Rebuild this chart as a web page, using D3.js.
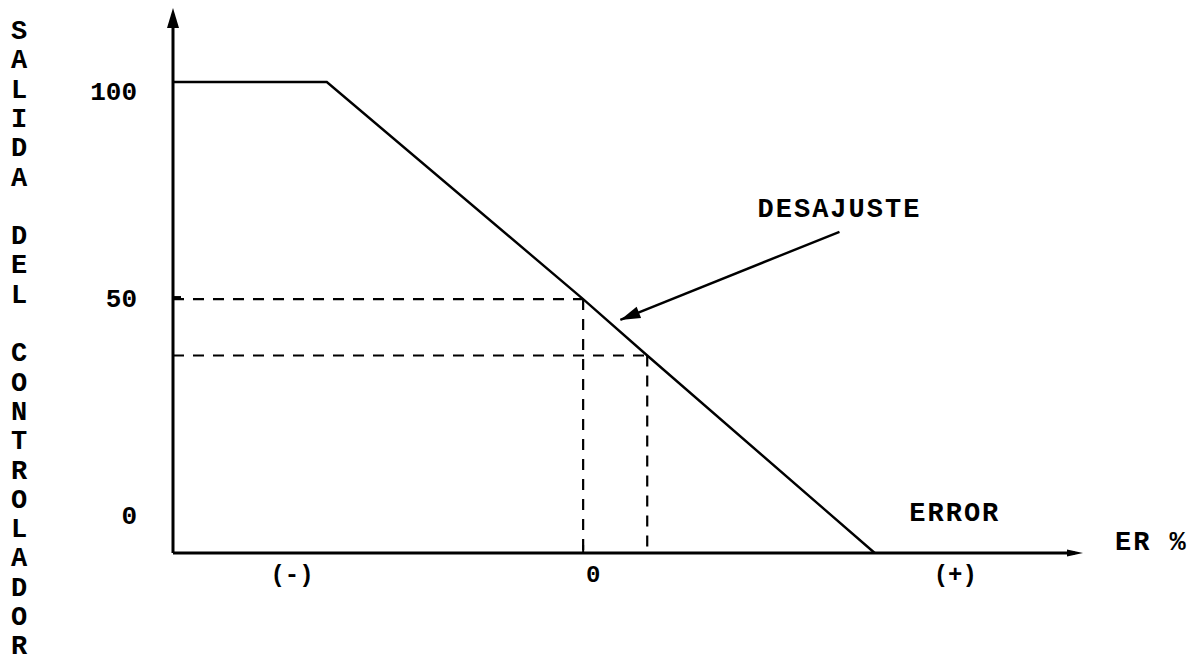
<!DOCTYPE html>
<html>
<head>
<meta charset="utf-8">
<script src="https://cdn.jsdelivr.net/npm/d3@7"></script>
<style>
  html, body { margin: 0; padding: 0; background: #fff; }
  svg { display: block; }
  text { font-family: "Liberation Mono", "DejaVu Sans Mono", monospace; font-weight: bold; fill: #000; }
</style>
</head>
<body>
<script>
// ---- data ----
const yTitle = "SALIDA DEL CONTROLADOR";
const yTickValues = [100, 50, 0];
const yTickLabels = ["100", "50", "0"];
const xTickValues = [-4.55, 0.15, 5.8];
const xTickLabels = ["(-)", "0", "(+)"];
const xAxisTitle = "ER %";
const curveX = [-6.4, -4.0, 0, 1, 4.55];
const curveY = [100, 100, 50, 37, -8.5];
const guideX = [0, 1];
const guideY = [50, 37];
const noteText = "DESAJUSTE";
const noteFrom = [4.0, 65.5];
const noteTo = [0.58, 45.2];
const noteLabelPos = [4.0, 68.8];
const errorText = "ERROR";
const errorPos = [5.8, -1.2];

const W = 1198, H = 665;
const svg = d3.select("body").append("svg").attr("width", W).attr("height", H);

const x = d3.scaleLinear().domain([-6.4, 7.8]).range([173, 1083]);
const y = d3.scaleLinear().domain([-8.5, 100]).range([553, 82]);
const x0 = x.domain()[0], x1 = x.domain()[1], yb = y.domain()[0];

// dashed guides
const g = svg.append("g");
guideX.forEach((gx, i) => {
  g.append("line").attr("x1", x(x0)).attr("x2", x(gx)).attr("y1", y(guideY[i])).attr("y2", y(guideY[i]))
    .attr("stroke", "#000").attr("stroke-width", 2.2).attr("stroke-dasharray", "11,9");
  g.append("line").attr("x1", x(gx)).attr("x2", x(gx)).attr("y1", y(guideY[i])).attr("y2", y(yb))
    .attr("stroke", "#000").attr("stroke-width", 2.2).attr("stroke-dasharray", "11,9");
});

// curve
const pts = curveX.map((v, i) => [v, curveY[i]]);
svg.append("path").datum(pts)
  .attr("d", d3.line().x(d => x(d[0])).y(d => y(d[1])))
  .attr("fill", "none").attr("stroke", "#000").attr("stroke-width", 2.4);

// axes lines
svg.append("line").attr("x1", x(x0)).attr("x2", x(x0)).attr("y1", y(yb)).attr("y2", 22)
  .attr("stroke", "#000").attr("stroke-width", 3);
svg.append("path").attr("d", `M${x(x0)},8 L${x(x0) - 6},28 L${x(x0) + 6},28 Z`).attr("fill", "#000");
svg.append("line").attr("x1", x(x0)).attr("x2", x(x1) - 8).attr("y1", y(yb)).attr("y2", y(yb))
  .attr("stroke", "#000").attr("stroke-width", 3);
svg.append("path").attr("d", `M${x(x1)},${y(yb)} L${x(x1) - 16},${y(yb) - 3.5} L${x(x1) - 16},${y(yb) + 3.5} Z`).attr("fill", "#000");

// small ticks
svg.append("line").attr("x1", x(x0)).attr("x2", x(x0) + 8).attr("y1", y(50) - 2).attr("y2", y(50) - 2)
  .attr("stroke", "#000").attr("stroke-width", 2);
svg.append("line").attr("x1", x(0)).attr("x2", x(0)).attr("y1", y(yb)).attr("y2", y(yb) - 8)
  .attr("stroke", "#000").attr("stroke-width", 2);

// y tick labels via axis
const yAxis = d3.axisLeft(y).tickValues(yTickValues).tickSize(0).tickPadding(36)
  .tickFormat((d, i) => yTickLabels[i]);
const ya = svg.append("g").attr("transform", `translate(${x(x0)},0)`).call(yAxis);
ya.select(".domain").remove();
ya.selectAll("text").attr("font-size", 26).attr("font-family", null).attr("dy", "0.38em")
  .attr("transform", (d, i) => i === 0 ? "translate(0,8)" : "translate(0,-2)");

// x tick labels via axis
const xAxis = d3.axisBottom(x).tickValues(xTickValues).tickSize(0).tickPadding(12)
  .tickFormat((d, i) => xTickLabels[i]);
const xa = svg.append("g").attr("transform", `translate(0,${y(yb)})`).call(xAxis);
xa.select(".domain").remove();
xa.selectAll("text").attr("font-size", 24).attr("font-family", null);

// y title (vertical letters)
const yt = svg.append("text").attr("font-size", 27).attr("text-anchor", "middle");
yTitle.split("").forEach((ch, i) => {
  yt.append("tspan").attr("x", 19).attr("y", 39 + i * 29.3).text(ch === " " ? "\u00a0" : ch);
});

// annotations
svg.append("text").attr("x", x(noteLabelPos[0])).attr("y", y(noteLabelPos[1]))
  .attr("text-anchor", "middle").attr("font-size", 27).attr("letter-spacing", 2).text(noteText);
svg.append("text").attr("x", x(errorPos[0])).attr("y", y(errorPos[1]))
  .attr("text-anchor", "middle").attr("font-size", 27).attr("letter-spacing", 2).text(errorText);
svg.append("text").attr("x", 1115).attr("y", y(yb) - 3)
  .attr("font-size", 27).attr("letter-spacing", 2).text(xAxisTitle);

// arrow
const ax1 = x(noteFrom[0]), ay1 = y(noteFrom[1]), ax2 = x(noteTo[0]), ay2 = y(noteTo[1]);
svg.append("line").attr("x1", ax1).attr("y1", ay1).attr("x2", ax2).attr("y2", ay2)
  .attr("stroke", "#000").attr("stroke-width", 2.4);
const ang = Math.atan2(ay2 - ay1, ax2 - ax1);
const hl = 20, hw = 6;
const bx = ax2 - hl * Math.cos(ang), by = ay2 - hl * Math.sin(ang);
svg.append("path").attr("d",
  `M${ax2},${ay2} L${bx - hw * Math.sin(ang)},${by + hw * Math.cos(ang)} L${bx + hw * Math.sin(ang)},${by - hw * Math.cos(ang)} Z`)
  .attr("fill", "#000");
</script>
</body>
</html>
